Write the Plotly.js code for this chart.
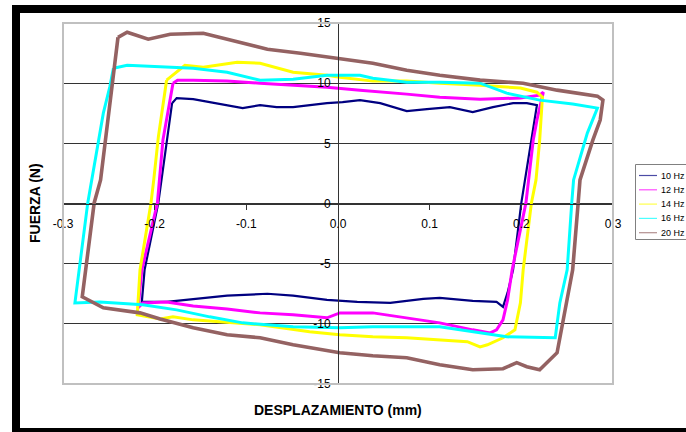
<!DOCTYPE html>
<html>
<head>
<meta charset="utf-8">
<script src="https://cdn.plot.ly/plotly-3.0.1.min.js"></script>
<style>html,body{margin:0;padding:0;background:#fff;}#chart{width:686px;height:432px;}</style>
</head>
<body>
<div id="chart"></div>
<script>
// ---- Data ----
const seriesNames = ['10 Hz', '12 Hz', '14 Hz', '16 Hz', '20 Hz'];
const xTitle = 'DESPLAZAMIENTO (mm)';
const yTitle = 'FUERZA (N)';
const xTickVals = [-0.3, -0.2, -0.1, 0, 0.1, 0.2, 0.3];
const xTickText = ['-0.3', '-0.2', '-0.1', '0.0', '0.1', '0.2', '0.3'];
const yTickVals = [-15, -10, -5, 0, 5, 10, 15];
const yTickText = ['-15', '-10', '-5', '0', '5', '10', '15'];

const x10 = [-0.181,-0.176,-0.158,-0.140,-0.121,-0.104,-0.085,-0.067,-0.049,-0.031,-0.012,0.005,0.024,0.046,0.075,0.097,0.122,0.147,0.169,0.191,0.206,0.217,0.204,0.200,0.191,0.185,0.180,0.173,0.147,0.111,0.093,0.057,0.021,0.002,-0.012,-0.049,-0.077,-0.121,-0.158,-0.187,-0.214,-0.211,-0.196,-0.187,-0.181];
const y10 = [8.34,8.76,8.67,8.42,8.18,7.93,8.18,8.01,8.01,8.18,8.34,8.42,8.59,8.34,7.68,7.84,8.01,7.60,8.01,8.34,8.34,8.18,1.96,0.05,-5.51,-7.41,-8.59,-8.18,-8.09,-7.84,-7.92,-8.26,-8.18,-8.09,-8.01,-7.66,-7.50,-7.66,-7.92,-8.18,-8.18,-5.51,0.05,5.27,8.34];

const x12 = [-0.180,-0.175,-0.158,-0.121,-0.085,-0.049,-0.012,0.024,0.038,0.075,0.111,0.155,0.199,0.220,0.224,0.217,0.213,0.208,0.205,0.190,0.185,0.180,0.173,0.166,0.147,0.111,0.075,0.038,0.002,-0.012,-0.049,-0.085,-0.121,-0.158,-0.187,-0.213,-0.218,-0.214,-0.197,-0.195,-0.191,-0.180];
const y12 = [10.00,10.25,10.25,10.17,10.00,9.83,9.67,9.42,9.34,9.09,8.84,8.67,8.76,9.00,9.25,6.93,5.27,1.96,0.05,-5.51,-8.01,-9.67,-10.50,-10.75,-10.50,-9.92,-9.50,-9.09,-9.09,-9.50,-9.25,-9.09,-8.76,-8.51,-8.18,-8.26,-8.67,-5.51,0.05,1.96,5.27,10.00];

const x14 = [-0.187,-0.167,-0.147,-0.110,-0.085,-0.049,-0.012,0.002,0.038,0.075,0.111,0.155,0.199,0.217,0.223,0.220,0.216,0.211,0.202,0.199,0.193,0.180,0.163,0.155,0.141,0.111,0.075,0.038,0.002,-0.031,-0.085,-0.158,-0.180,-0.194,-0.219,-0.216,-0.204,-0.201,-0.196,-0.187];
const y14 = [10.25,11.49,11.33,11.74,11.66,10.91,10.66,10.50,10.17,10.17,10.00,9.83,9.59,9.25,8.84,5.27,1.96,0.05,-5.51,-8.26,-10.50,-11.16,-11.74,-11.91,-11.48,-11.33,-11.16,-11.08,-10.91,-10.66,-10.08,-9.67,-9.42,-9.59,-9.25,-5.51,0.05,1.96,5.52,10.25];

const x16 = [-0.245,-0.230,-0.158,-0.121,-0.085,-0.049,-0.012,0.024,0.038,0.075,0.111,0.155,0.184,0.220,0.256,0.283,0.272,0.257,0.255,0.250,0.242,0.237,0.184,0.111,0.038,0.002,-0.049,-0.104,-0.140,-0.176,-0.213,-0.260,-0.287,-0.273,-0.256,-0.249,-0.245];
const y16 = [11.24,11.49,11.24,10.91,10.25,10.33,10.66,10.66,10.41,10.08,10.08,10.00,9.17,8.59,8.26,7.93,5.85,1.96,0.05,-5.51,-8.26,-11.16,-11.08,-10.25,-10.25,-10.33,-10.25,-9.92,-9.42,-8.84,-8.42,-8.18,-8.26,0.05,7.51,9.67,11.24];

const x20 = [-0.240,-0.230,-0.207,-0.183,-0.147,-0.115,-0.077,-0.041,-0.001,0.024,0.038,0.075,0.111,0.155,0.202,0.239,0.283,0.289,0.286,0.278,0.264,0.262,0.256,0.239,0.220,0.206,0.195,0.180,0.147,0.111,0.075,0.038,0.002,-0.049,-0.085,-0.121,-0.158,-0.194,-0.216,-0.256,-0.279,-0.266,-0.259,-0.240];
const y20 = [13.81,14.23,13.65,14.06,14.15,13.57,12.82,12.49,12.07,11.82,11.66,11.08,10.66,10.25,10.00,9.42,8.92,8.59,6.93,5.27,1.96,0.05,-5.51,-12.40,-13.81,-13.56,-13.23,-13.73,-13.81,-13.40,-12.82,-12.65,-12.40,-11.74,-11.16,-10.91,-10.33,-9.59,-9.09,-8.67,-7.75,0.05,1.96,13.81];

// ---- Styles ----
const colors = ['#000080', '#ff00ff', '#ffff00', '#00ffff', '#946262'];
const widths = [2.2, 3, 3, 3, 3.6];
const FONT = 'Arial, "Liberation Sans", sans-serif';

const xs = [x10, x12, x14, x16, x20];
const ys = [y10, y12, y14, y16, y20];

const traces = seriesNames.map((n, i) => ({
  type: 'scatter', mode: 'lines', name: n,
  x: xs[i], y: ys[i],
  line: {color: colors[i], width: widths[i]},
  showlegend: false, hoverinfo: 'skip'
}));

// pixel -> paper helpers (layout positioning only)
const L = 63, R = 73, T = 23, B = 48, W = 686, H = 432;
const pw = W - L - R, ph = H - T - B;
const px = p => (p - L) / pw;
const py = p => (H - B - p) / ph;

const shapes = [
  // plot border
  {type: 'rect', xref: 'paper', yref: 'paper', x0: 0, x1: 1, y0: 0, y1: 1,
   line: {color: '#c0c0c0', width: 2}, layer: 'above'},
  // black page frame
  {type: 'rect', xref: 'paper', yref: 'paper', x0: px(16), x1: px(705), y0: py(432), y1: py(9),
   line: {color: '#000', width: 8}, layer: 'above'},
  // legend box
  {type: 'rect', xref: 'paper', yref: 'paper', x0: px(635.5), x1: px(705), y0: py(239.5), y1: py(164.5),
   line: {color: '#808080', width: 1}, fillcolor: '#fff', layer: 'above'}
];
const annotations = [
  {text: '<b>' + xTitle + '</b>', xref: 'paper', yref: 'paper', x: 0.5, y: py(410),
   xanchor: 'center', yanchor: 'middle', showarrow: false, font: {family: FONT, size: 14, color: '#000'}},
  {text: '<b>' + yTitle + '</b>', xref: 'paper', yref: 'paper', x: px(35), y: py(203),
   xanchor: 'center', yanchor: 'middle', textangle: -90, showarrow: false, font: {family: FONT, size: 14, color: '#000'}}
];
seriesNames.forEach((n, i) => {
  const yy = 175.5 + i * 14.3;
  shapes.push({type: 'line', xref: 'paper', yref: 'paper', x0: px(639), x1: px(657), y0: py(yy), y1: py(yy),
    line: {color: colors[i], width: 1.2}, opacity: 0.7, layer: 'above'});
  annotations.push({text: n, xref: 'paper', yref: 'paper', x: px(659), y: py(yy), xanchor: 'left', yanchor: 'middle',
    showarrow: false, font: {family: FONT, size: 9, color: '#000'}});
});

const layout = {
  width: W, height: H,
  margin: {l: L, r: R, t: T, b: B, pad: 0},
  paper_bgcolor: '#fff', plot_bgcolor: '#fff',
  font: {family: FONT, size: 12, color: '#000'},
  showlegend: false,
  xaxis: {
    range: [-0.3, 0.3], tickvals: xTickVals, ticktext: xTickText,
    anchor: 'free', position: 0.5,
    showline: true, linecolor: '#333', linewidth: 1,
    ticks: 'outside', ticklen: 5, tickcolor: '#333', tickwidth: 1,
    showgrid: false, zeroline: false, ticklabelstandoff: 4,
    tickfont: {family: FONT, size: 12, color: '#000'}, fixedrange: true
  },
  yaxis: {
    range: [-15, 15], tickvals: yTickVals, ticktext: yTickText,
    anchor: 'free', position: 0.5,
    showline: true, linecolor: '#333', linewidth: 1,
    ticks: 'outside', ticklen: 5, tickcolor: '#333', tickwidth: 1,
    showgrid: true, gridcolor: '#333', gridwidth: 1, zeroline: false,
    tickfont: {family: FONT, size: 12, color: '#000'}, fixedrange: true
  },
  shapes: shapes,
  annotations: annotations
};

Plotly.newPlot('chart', traces, layout, {displayModeBar: false, staticPlot: true});
</script>
</body>
</html>
